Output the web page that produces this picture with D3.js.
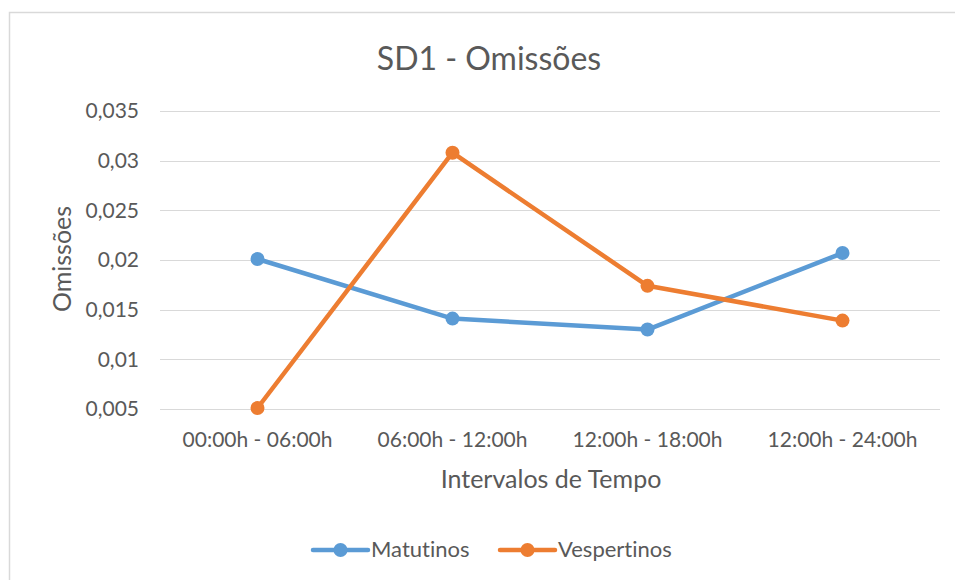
<!DOCTYPE html>
<html><head><meta charset="utf-8">
<script src="https://cdn.jsdelivr.net/npm/d3@7"></script>
<style>body{margin:0;background:#fff}svg text{font-family:Lato,"Open Sans",sans-serif;fill:#595959;font-variant-ligatures:none;font-feature-settings:"liga" 0}</style>
</head><body><svg id="c" width="955" height="580"></svg>
<script>
const categories = ["00:00h - 06:00h","06:00h - 12:00h","12:00h - 18:00h","12:00h - 24:00h"];
const matutinos = [0.0201,0.0141,0.0130,0.0207];
const vespertinos = [0.0051,0.0308,0.0174,0.0139];
const yTicks = [0.005,0.01,0.015,0.02,0.025,0.03,0.035];
const yTickLabels = ["0,005","0,01","0,015","0,02","0,025","0,03","0,035"];
const seriesNames = ["Matutinos","Vespertinos"];
const colors = ["#5B9BD5","#ED7D31"];

const svg = d3.select("#c");
svg.append("rect").attr("x",9.5).attr("y",12.5).attr("width",960).attr("height",600)
  .attr("fill","#fff").attr("stroke","#D9D9D9").attr("stroke-width",1.5);

const x = d3.scaleBand().domain(categories).range([160,940]);
const y = d3.scaleLinear().domain([0.005,0.035]).range([409,111]);

const grid = svg.append("g");
yTicks.forEach(t=>{
  grid.append("line").attr("x1",160).attr("x2",940).attr("y1",Math.round(y(t))+0.5).attr("y2",Math.round(y(t))+0.5)
    .attr("stroke","#D9D9D9").attr("stroke-width",1);
});
const yAxis = d3.axisLeft(y).tickValues(yTicks).tickFormat((d,i)=>yTickLabels[i]).tickSize(0).tickPadding(0);
const ya = svg.append("g").attr("transform","translate(139,0)").call(yAxis);
ya.select(".domain").remove();
ya.selectAll("text").style("font-size","21px").attr("fill","#595959");

const xAxis = d3.axisBottom(x).tickSize(0).tickPadding(0);
const xa = svg.append("g").attr("transform","translate(0,432)").call(xAxis);
xa.select(".domain").remove();
xa.selectAll("text").style("font-size","21px").attr("fill","#595959");

svg.append("text").attr("x",489).attr("y",70).attr("text-anchor","middle").style("font-size","32px").text("SD1 - Omissões");
svg.append("text").attr("x",551).attr("y",488).attr("text-anchor","middle").style("font-size","25px").text("Intervalos de Tempo");
svg.append("text").attr("transform","translate(71,259) rotate(-90)").attr("text-anchor","middle").style("font-size","25px").text("Omissões");

const line = d3.line().x((d,i)=>x(categories[i])+x.bandwidth()/2).y(d=>y(d));
[matutinos,vespertinos].forEach((s,k)=>{
  svg.append("path").datum(s).attr("d",line).attr("fill","none").attr("stroke",colors[k])
    .attr("stroke-width",4.5).attr("stroke-linejoin","round").attr("stroke-linecap","round");
  svg.selectAll(null).data(s).enter().append("circle")
    .attr("cx",(d,i)=>x(categories[i])+x.bandwidth()/2).attr("cy",d=>y(d)).attr("r",7).attr("fill",colors[k]);
});

const legX = [313,500];
seriesNames.forEach((n,k)=>{
  const g = svg.append("g");
  g.append("line").attr("x1",legX[k]).attr("x2",legX[k]+55).attr("y1",550).attr("y2",550)
    .attr("stroke",colors[k]).attr("stroke-width",4.5).attr("stroke-linecap","round");
  g.append("circle").attr("cx",legX[k]+27.5).attr("cy",550).attr("r",7).attr("fill",colors[k]);
  g.append("text").attr("x",legX[k]+58).attr("y",557).style("font-size","22px").text(n);
});
</script></body></html>
